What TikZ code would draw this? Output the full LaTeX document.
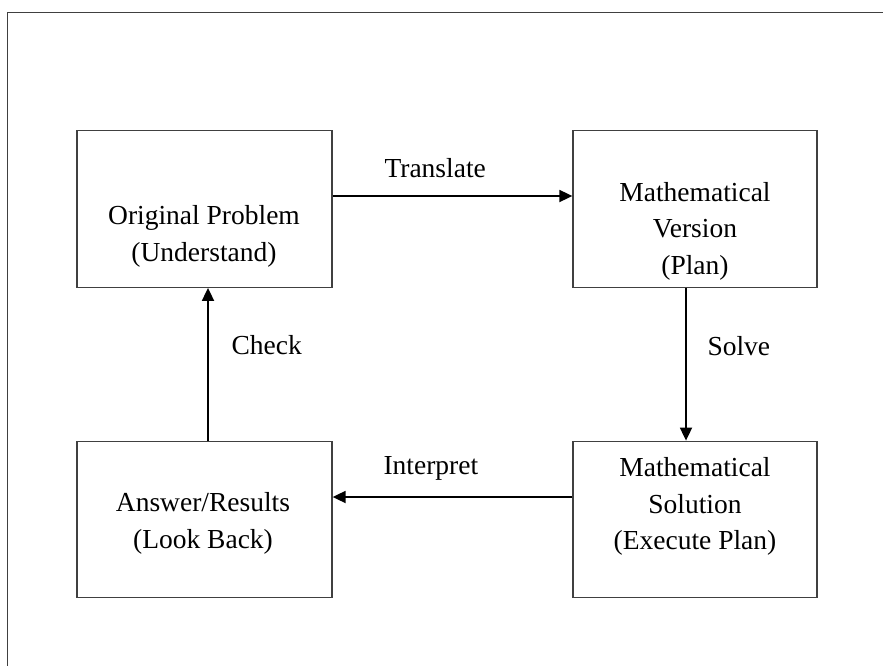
\documentclass[tikz,border=0pt]{standalone}
\usepackage{fontspec}
\setmainfont{Liberation Serif}
\usetikzlibrary{arrows.meta}

\tikzset{
	stage/.style={draw=black!75,line width=1.3pt,inner sep=0pt,
		minimum height=156.5pt},
	stagetext/.style={align=center,font=\fontsize{27.5pt}{36.5pt}\selectfont},
	flowlabel/.style={anchor=base west,font=\fontsize{27.5pt}{36.5pt}\selectfont},
	flow/.style={line width=1.8pt,-{Triangle[length=13pt,width=12pt]}}
}

\begin{document}
\begin{tikzpicture}[x=1pt,y=-1pt]
	\useasboundingbox (0,0) rectangle (883,666);

	% Frame around the figure (only top and left edge are visible):
	\draw [black!75,line width=1pt] (7.5,666) -- (7.5,12.3) -- (883,12.3);

	% The four boxes of the cycle:
	\node [stage,minimum width=255pt] (orig) at (204.5,209) {};
	\node [stage,minimum width=244pt] (vers) at (695,209) {};
	\node [stage,minimum width=244pt] (sol)  at (695,519.5) {};
	\node [stage,minimum width=255pt] (ans)  at (204.5,519.5) {};

	% Texts inside the boxes:
	\node [stagetext] (origtxt) at (204,236.5) {Original Problem\\(Understand)};
	\node [stagetext] (verstxt) at (695,231)   {Mathematical\\Version\\(Plan)};
	\node [stagetext] (soltxt)  at (695,506.5) {Mathematical\\Solution\\(Execute Plan)};
	\node [stagetext] (anstxt)  at (203,523.5) {Answer/Results\\(Look Back)};

	% Arrows between the boxes:
	\draw [flow] ([yshift=13pt]orig.east) -- ([yshift=13pt]vers.west);
	\draw [flow] ([xshift=-9pt]vers.south) -- ([xshift=-9pt]sol.north);
	\draw [flow] ([yshift=22.5pt]sol.west) -- ([yshift=22.5pt]ans.east);
	\draw [flow] ([xshift=3.5pt]ans.north) -- ([xshift=3.5pt]orig.south);

	% Labels of the arrows:
	\node [flowlabel] (translate) at (381,177)   {Translate};
	\node [flowlabel] (solve)     at (704,355)   {Solve};
	\node [flowlabel] (interpret) at (380,474)   {Interpret};
	\node [flowlabel] (check)     at (228,354)   {Check};
\end{tikzpicture}
\end{document}
